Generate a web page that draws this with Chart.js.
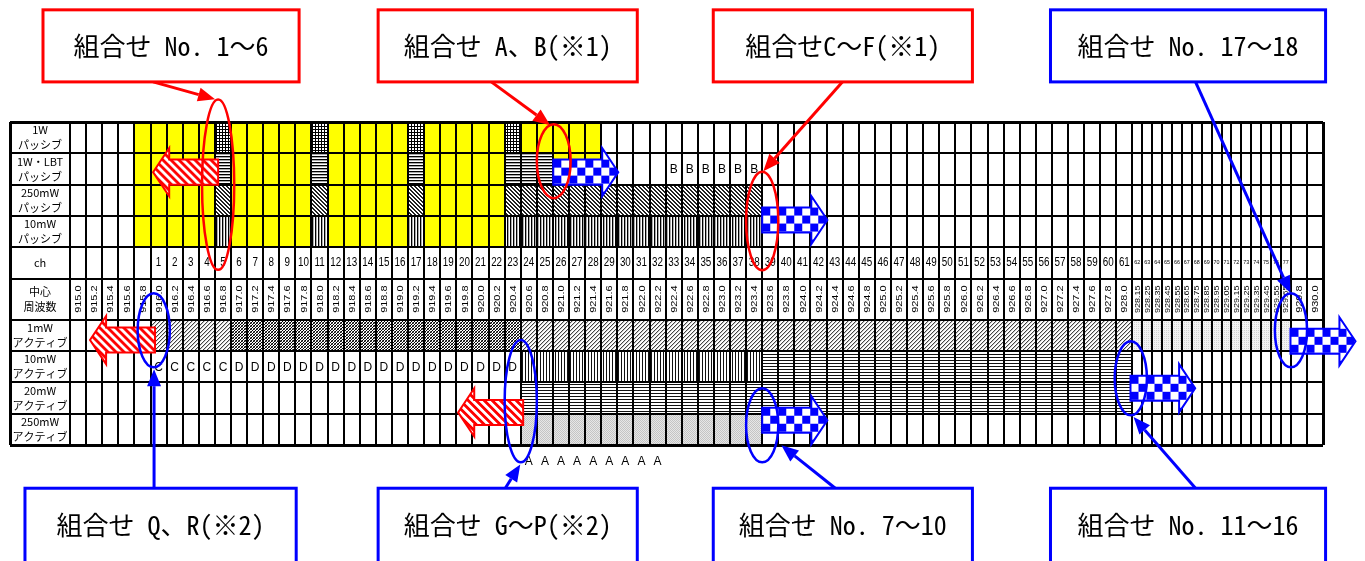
<!DOCTYPE html>
<html lang="ja">
<head>
<meta charset="UTF-8">
<title>周波数チャンネル 組合せ表</title>
<script src="https://cdn.jsdelivr.net/npm/chart.js"></script>
<style>
  html, body { margin: 0; background: #fff; }
  canvas { display: block; }
</style>
</head>
<body>
<canvas id="tabela" width="1365" height="561"></canvas>
<script>
// ---- dados ----
const rowLabels = [
  ['1W', 'パッシブ'], ['1W・LBT', 'パッシブ'], ['250mW', 'パッシブ'], ['10mW', 'パッシブ'],
  ['ch'], ['中心', '周波数'],
  ['1mW', 'アクティブ'], ['10mW', 'アクティブ'], ['20mW', 'アクティブ'], ['250mW', 'アクティブ']
];

const freqLabels = [
  '915.0', '915.2', '915.4', '915.6', '915.8', '916.0', '916.2', '916.4', '916.6', '916.8',
  '917.0', '917.2', '917.4', '917.6', '917.8', '918.0', '918.2', '918.4', '918.6', '918.8',
  '919.0', '919.2', '919.4', '919.6', '919.8', '920.0', '920.2', '920.4', '920.6', '920.8',
  '921.0', '921.2', '921.4', '921.6', '921.8', '922.0', '922.2', '922.4', '922.6', '922.8',
  '923.0', '923.2', '923.4', '923.6', '923.8', '924.0', '924.2', '924.4', '924.6', '924.8',
  '925.0', '925.2', '925.4', '925.6', '925.8', '926.0', '926.2', '926.4', '926.6', '926.8',
  '927.0', '927.2', '927.4', '927.6', '927.8', '928.0',
  '928.15', '928.25', '928.35', '928.45', '928.55', '928.65', '928.75', '928.85',
  '928.95', '929.05', '929.15', '929.25', '929.35', '929.45', '929.55', '929.65',
  '929.8', '930.0'
];

const chLabels = [
  '', '', '', '', '', '1', '2', '3', '4', '5',
  '6', '7', '8', '9', '10', '11', '12', '13', '14', '15',
  '16', '17', '18', '19', '20', '21', '22', '23', '24', '25',
  '26', '27', '28', '29', '30', '31', '32', '33', '34', '35',
  '36', '37', '38', '39', '40', '41', '42', '43', '44', '45',
  '46', '47', '48', '49', '50', '51', '52', '53', '54', '55',
  '56', '57', '58', '59', '60', '61',
  '62', '63', '64', '65', '66', '67', '68', '69',
  '70', '71', '72', '73', '74', '75', '76', '77',
  '', ''
];

// [linha, de (MHz), até (MHz), preenchimento]
const passiveFills = [
  [0, '915.8', '921.4', 'yellow'],
  [0, '916.8', '916.8', 'mesh'], [0, '918.0', '918.0', 'mesh'],
  [0, '919.2', '919.2', 'mesh'], [0, '920.4', '920.4', 'mesh'],
  [1, '915.8', '921.4', 'yellow'],
  [1, '916.8', '916.8', 'hline'], [1, '918.0', '918.0', 'hline'],
  [1, '919.2', '919.2', 'hline'], [1, '920.4', '920.8', 'hline'],
  [2, '915.8', '920.2', 'yellow'],
  [2, '916.8', '916.8', 'hatch'], [2, '918.0', '918.0', 'hatch'],
  [2, '919.2', '919.2', 'hatch'], [2, '920.4', '923.4', 'hatch'],
  [3, '915.8', '920.2', 'yellow'],
  [3, '916.8', '916.8', 'vline'], [3, '918.0', '918.0', 'vline'],
  [3, '919.2', '919.2', 'vline'], [3, '920.4', '923.4', 'vline']
];

const activeFills = [
  [6, '916.0', '916.8', 'lightHatch'], [6, '917.0', '920.4', 'darkHatch'],
  [6, '920.6', '928.0', 'lightHatch'], [6, '928.15', '929.65', 'faint'],
  [7, '920.6', '923.4', 'vlineThin'], [7, '923.6', '928.0', 'hlineThin'],
  [8, '920.6', '928.0', 'hlineThin'],
  [9, '920.6', '923.4', 'dots']
];

// [linha, de, até, letra]  (linha 10 = abaixo da tabela)
const cellLetters = [
  [1, '922.4', '923.4', 'B'],
  [7, '916.0', '916.8', 'C'],
  [7, '917.0', '920.4', 'D'],
  [10, '920.6', '922.2', 'A']
];

const topCallouts = ['組合せ No. 1～6', '組合せ A、B(※1)', '組合せC～F(※1)', '組合せ No. 17～18'];
const bottomCallouts = ['組合せ Q、R(※2)', '組合せ G～P(※2)', '組合せ No. 7～10', '組合せ No. 11～16'];

// ---- layout (unidades da escala: 1 = largura de coluna normal / altura de linha) ----
const RED = '#ff0000', BLUE = '#0000ff';
const LABEL_W = 3.73, NARROW_W = 0.615;
const rowHeights = [1, 1, 1, 1, 1, 1.31, 1, 1, 1, 1];

const colEdges = [0];
freqLabels.forEach((f, i) => {
  const w = (i >= 66 && i < 82) ? NARROW_W : 1;
  colEdges.push(colEdges[i] + w);
});
const rowEdges = [0];
rowHeights.forEach((h, i) => rowEdges.push(rowEdges[i] + h));
const rowMid = r => r < rowHeights.length ? (rowEdges[r] + rowEdges[r + 1]) / 2 : rowEdges[rowHeights.length] + 0.5;

const ellipses = [
  { c: RED, cx: 9.2, cy: 2.0, rx: 1.0, ry: 2.72 },
  { c: RED, cx: 30.05, cy: 1.25, rx: 1.05, ry: 1.18 },
  { c: RED, cx: 43.0, cy: 3.16, rx: 1.0, ry: 1.57 },
  { c: BLUE, cx: 5.2, cy: 6.65, rx: 1.0, ry: 1.18 },
  { c: BLUE, cx: 28.0, cy: 8.91, rx: 1.0, ry: 1.95 },
  { c: BLUE, cx: 43.0, cy: 9.68, rx: 1.0, ry: 1.18 },
  { c: BLUE, cx: 65.9, cy: 8.18, rx: 1.0, ry: 1.18 },
  { c: BLUE, cx: 75.85, cy: 6.65, rx: 1.0, ry: 1.18 }
];

const blockArrows = [
  { c: RED, tail: 9.2, tip: 5.16, cy: 1.6 },
  { c: RED, tail: 5.28, tip: 1.24, cy: 6.96 },
  { c: RED, tail: 28.15, tip: 24.11, cy: 9.27 },
  { c: BLUE, tail: 30.02, tip: 34.06, cy: 1.6 },
  { c: BLUE, tail: 43.0, tip: 47.05, cy: 3.13 },
  { c: BLUE, tail: 43.0, tip: 47.05, cy: 9.52 },
  { c: BLUE, tail: 65.88, tip: 69.9, cy: 8.5 },
  { c: BLUE, tail: 75.82, tip: 79.86, cy: 7.0 }
];

const boxes = [
  { c: RED, x0: -1.68, x1: 14.23, top: true, from: [5.16, -1.28], to: [9.01, -0.73] },
  { c: RED, x0: 19.14, x1: 35.24, top: true, from: [26.17, -1.28], to: [29.83, 0.1] },
  { c: RED, x0: 39.96, x1: 56.06, top: true, from: [47.98, -1.28], to: [43.07, 1.57] },
  { c: BLUE, x0: 60.91, x1: 78.0, top: true, from: [69.92, -1.28], to: [75.82, 5.46] },
  { c: BLUE, x0: -2.8, x1: 14.05, top: false, from: [5.22, 11.69], to: [5.22, 7.89] },
  { c: BLUE, x0: 19.14, x1: 35.24, top: false, from: [27.04, 11.69], to: [27.97, 10.93] },
  { c: BLUE, x0: 39.96, x1: 56.06, top: false, from: [47.54, 11.69], to: [44.19, 10.32] },
  { c: BLUE, x0: 60.91, x1: 78.0, top: false, from: [69.92, 11.69], to: [66.07, 9.42] }
];

// ---- padrões ----
function pixTile(w, h, fn) {
  const c = document.createElement('canvas');
  c.width = w; c.height = h;
  const g = c.getContext('2d');
  g.fillStyle = '#fff';
  g.fillRect(0, 0, w, h);
  for (let y = 0; y < h; y++) {
    for (let x = 0; x < w; x++) {
      const col = fn(x, y);
      if (col) { g.fillStyle = col; g.fillRect(x, y, 1, 1); }
    }
  }
  return c;
}

let pats = null;
function getPatterns(g) {
  if (pats) return pats;
  const p = c => g.createPattern(c, 'repeat');
  pats = {
    yellow: '#ffff00',
    mesh: p(pixTile(3, 3, (x, y) => (x === 0 || y === 0) ? '#000' : null)),
    hline: p(pixTile(1, 3, (x, y) => y === 0 ? '#000' : y === 1 ? '#aaa' : null)),
    hatch: p(pixTile(4, 4, (x, y) => ((x - y + 8) % 4 < 2) ? '#222' : null)),
    vline: p(pixTile(3, 1, x => x === 0 ? '#000' : x === 1 ? '#aaa' : null)),
    lightHatch: p(pixTile(4, 4, (x, y) => ((x + y) % 4 === 0) ? '#444' : ((x + y) % 4 === 1) ? '#ccc' : null)),
    darkHatch: p(pixTile(3, 3, (x, y) => ((x + y) % 3 === 0) ? '#000' : ((x - y + 3) % 3 === 0) ? '#666' : null)),
    vlineThin: p(pixTile(3, 1, x => x === 0 ? '#111' : null)),
    hlineThin: p(pixTile(1, 3, (x, y) => y === 0 ? '#111' : null)),
    dots: p(pixTile(2, 2, (x, y) => x === y ? '#c4c4c4' : '#e6e6e6')),
    faint: p(pixTile(2, 2, (x, y) => (x === 0 && y === 0) ? '#d4d4d4' : '#f3f3f3'))
  };
  pats.checker = p(pixTile(16, 16, (x, y) => ((Math.floor(x / 8) + Math.floor(y / 8)) % 2 === 0) ? BLUE : null));
  pats.stripes = p(pixTile(8, 8, (x, y) => ((x - y + 16) % 8 < 4) ? RED : null));
  return pats;
}

function arrowLine(g, x0, y0, x1, y1, color) {
  const a = Math.atan2(y1 - y0, x1 - x0), L = 17, W = 7;
  const bx = x1 - L * Math.cos(a), by = y1 - L * Math.sin(a);
  g.strokeStyle = color; g.lineWidth = 3;
  g.beginPath(); g.moveTo(x0, y0); g.lineTo(bx, by); g.stroke();
  g.fillStyle = color;
  g.beginPath();
  g.moveTo(x1, y1);
  g.lineTo(bx + W * Math.sin(a), by - W * Math.cos(a));
  g.lineTo(bx - W * Math.sin(a), by + W * Math.cos(a));
  g.closePath(); g.fill();
}

const tabelaPlugin = {
  id: 'tabela',
  beforeDraw(chart) {
    const g = chart.ctx;
    const X = v => chart.scales.x.getPixelForValue(v);
    const Y = v => chart.scales.y.getPixelForValue(v);
    const pt = getPatterns(g);
    g.save();
    [...passiveFills, ...activeFills].forEach(([row, from, to, kind]) => {
      const i0 = freqLabels.indexOf(from), i1 = freqLabels.indexOf(to);
      const x0 = X(colEdges[i0]), x1 = X(colEdges[i1 + 1]);
      const y0 = Y(rowEdges[row]), y1 = Y(rowEdges[row + 1]);
      g.fillStyle = pt[kind];
      g.fillRect(x0, y0, x1 - x0, y1 - y0);
    });
    g.restore();
  },
  afterDraw(chart) {
    const g = chart.ctx;
    const X = v => chart.scales.x.getPixelForValue(v);
    const Y = v => chart.scales.y.getPixelForValue(v);
    const pt = getPatterns(g);
    g.save();
    g.fillStyle = '#000';
    g.textAlign = 'center';
    g.textBaseline = 'middle';

    // rótulos das linhas
    g.font = '11px "Noto Sans CJK JP", sans-serif';
    rowLabels.forEach((lines, r) => {
      const cy = Y(rowMid(r));
      lines.forEach((t, k) => g.fillText(t, X(-LABEL_W / 2), cy + (k - (lines.length - 1) / 2) * 15));
    });

    // números de canal
    chLabels.forEach((t, i) => {
      if (!t) return;
      const cx = X((colEdges[i] + colEdges[i + 1]) / 2), cy = Y(rowMid(4));
      const narrow = i >= 66 && i < 82;
      g.save();
      g.translate(cx, cy + (narrow ? -1 : 0));
      g.scale(narrow ? 0.9 : 0.82, 1);
      g.font = (narrow ? '6px' : '12px') + ' "Liberation Sans", Arial, sans-serif';
      g.fillText(t, 0, 0);
      g.restore();
    });

    // frequências (verticais)
    freqLabels.forEach((t, i) => {
      const cx = X((colEdges[i] + colEdges[i + 1]) / 2), cy = Y(rowMid(5));
      const narrow = i >= 66 && i < 82;
      g.save();
      g.translate(cx, cy);
      g.rotate(-Math.PI / 2);
      g.scale(narrow ? 1.2 : 1.15, 1);
      g.font = (narrow ? '7.5px' : '9.5px') + ' "Liberation Sans", Arial, sans-serif';
      g.fillText(t, 0, 0.5);
      g.restore();
    });

    // letras nas células
    g.font = '12px "Liberation Sans", Arial, sans-serif';
    cellLetters.forEach(([row, from, to, ch]) => {
      const i0 = freqLabels.indexOf(from), i1 = freqLabels.indexOf(to);
      for (let i = i0; i <= i1; i++) {
        g.fillText(ch, X((colEdges[i] + colEdges[i + 1]) / 2), Y(rowMid(row)) + 1);
      }
    });

    // setas largas
    blockArrows.forEach(a => {
      const dir = Math.sign(a.tip - a.tail);
      const xt = X(a.tail), xp = X(a.tip), xb = X(a.tip - dir * 1.0);
      const yc = Y(a.cy);
      const bh = Y(a.cy + 0.4) - yc, hh = Y(a.cy + 0.77) - yc;
      g.beginPath();
      g.moveTo(xt, yc - bh); g.lineTo(xb, yc - bh); g.lineTo(xb, yc - hh);
      g.lineTo(xp, yc); g.lineTo(xb, yc + hh); g.lineTo(xb, yc + bh);
      g.lineTo(xt, yc + bh); g.closePath();
      const fill = a.c === BLUE ? pt.checker : pt.stripes;
      fill.setTransform(new DOMMatrix().translate(Math.min(xt, xp), yc - bh));
      g.fillStyle = fill;
      g.fill();
      g.lineWidth = 2; g.strokeStyle = a.c;
      g.stroke();
    });

    // elipses
    ellipses.forEach(e => {
      g.beginPath();
      g.ellipse(X(e.cx), Y(e.cy), X(e.cx + e.rx) - X(e.cx), Y(e.cy + e.ry) - Y(e.cy), 0, 0, Math.PI * 2);
      g.lineWidth = 2.5; g.strokeStyle = e.c;
      g.stroke();
    });

    // caixas com texto e setas de chamada
    boxes.forEach((b, k) => {
      arrowLine(g, X(b.from[0]), Y(b.from[1]), X(b.to[0]), Y(b.to[1]), b.c);
      const y0 = b.top ? Y(-3.58) : Y(11.69), y1 = b.top ? Y(-1.28) : Y(14.6);
      const x0 = X(b.x0), x1 = X(b.x1);
      g.fillStyle = '#fff';
      g.fillRect(x0, y0, x1 - x0, y1 - y0);
      g.lineWidth = 3; g.strokeStyle = b.c;
      g.strokeRect(x0, y0, x1 - x0, y1 - y0);
      const label = b.top ? topCallouts[k] : bottomCallouts[k - 4];
      g.fillStyle = '#000';
      g.font = '26px "Noto Sans Mono CJK JP", "Noto Sans CJK JP", sans-serif';
      g.fillText(label, (x0 + x1) / 2, b.top ? Y(-2.43) : Y(12.87));
    });
    g.restore();
  }
};

const edgeWidth = (min, max) => c => {
  const v = c.tick ? c.tick.value : null;
  return (Math.abs(v - min) < 1e-6 || Math.abs(v - max) < 1e-6) ? 3 : 2;
};

const xMin = -LABEL_W, xMax = colEdges[colEdges.length - 1];
const yMax = rowEdges[rowEdges.length - 1];

new Chart(document.getElementById('tabela').getContext('2d'), {
  type: 'scatter',
  data: { datasets: [] },
  options: {
    responsive: false,
    animation: false,
    layout: { padding: { left: 10, right: 42, top: 122, bottom: 116 } },
    plugins: { legend: { display: false }, tooltip: { enabled: false } },
    scales: {
      x: {
        type: 'linear', min: xMin, max: xMax,
        afterBuildTicks: s => { s.ticks = [xMin, ...colEdges].map(v => ({ value: v })); },
        ticks: { display: false },
        grid: { color: '#000', lineWidth: edgeWidth(xMin, xMax), drawTicks: false },
        border: { display: false }
      },
      y: {
        type: 'linear', min: 0, max: yMax, reverse: true,
        afterBuildTicks: s => { s.ticks = rowEdges.map(v => ({ value: v })); },
        ticks: { display: false },
        grid: { color: '#000', lineWidth: edgeWidth(0, yMax), drawTicks: false },
        border: { display: false }
      }
    }
  },
  plugins: [tabelaPlugin]
});
</script>
</body>
</html>
